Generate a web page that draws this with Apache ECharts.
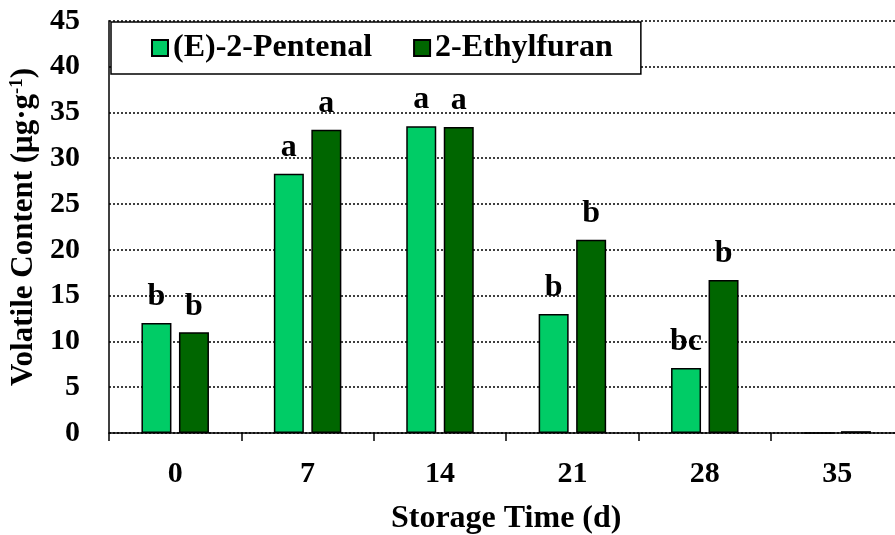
<!DOCTYPE html>
<html>
<head>
<meta charset="utf-8">
<script src="https://cdn.jsdelivr.net/npm/echarts@6/dist/echarts.min.js"></script>
<style>
html,body{margin:0;padding:0;background:#fff;}
#chart{width:895px;height:535px;}
</style>
</head>
<body>
<div id="chart"></div>
<script>
var categories = ['0', '7', '14', '21', '28', '35'];
var pentenal = [12.0, 28.3, 33.5, 13.0, 7.1, 0];
var ethylfuran = [11.0, 33.1, 33.4, 21.1, 16.7, 0.2];
var pentenalLetters = ['b', 'a', 'a', 'b', 'bc', ''];
var ethylfuranLetters = ['b', 'a', 'a', 'b', 'b', ''];
var yTicks = [0, 5, 10, 15, 20, 25, 30, 35, 40, 45];

var FONT = '"Liberation Serif", "Times New Roman", serif';
var chart = echarts.init(document.getElementById('chart'));

function letterLabel(letters) {
  return {
    show: true,
    position: 'top',
    distance: 10,
    fontFamily: FONT,
    fontWeight: 'bold',
    fontSize: 32,
    color: '#000',
    formatter: function (p) { return letters[p.dataIndex]; }
  };
}

chart.setOption({
  animation: false,
  backgroundColor: '#fff',
  grid: { left: 109, right: -8.4, top: 20.8, bottom: 102, outerBoundsMode: 'none', containLabel: false },
  legend: {
    left: 111,
    top: 22,
    orient: 'horizontal',
    backgroundColor: '#fff',
    borderColor: '#000',
    borderWidth: 1.5,
    padding: [10, 28, 10, 40],
    itemGap: 41,
    itemWidth: 16,
    itemHeight: 16,
    icon: 'rect',
    textStyle: { fontFamily: FONT, fontWeight: 'bold', fontSize: 32, color: '#000' },
    data: ['(E)-2-Pentenal', '2-Ethylfuran']
  },
  xAxis: {
    type: 'category',
    data: categories,
    name: 'Storage Time (d)',
    nameLocation: 'middle',
    nameGap: 70,
    nameTextStyle: { fontFamily: FONT, fontWeight: 'bold', fontSize: 32, color: '#000' },
    axisLine: { lineStyle: { color: '#000', width: 1.5 } },
    axisTick: { show: true, length: 8, lineStyle: { color: '#000', width: 1.5 } },
    axisLabel: { margin: 26, fontFamily: FONT, fontWeight: 'bold', fontSize: 30, color: '#000' }
  },
  yAxis: {
    type: 'value',
    min: yTicks[0],
    max: yTicks[yTicks.length - 1],
    interval: 5,
    name: '{a|Volatile Content (μg·g}{s|-1}{a|)}',
    nameLocation: 'middle',
    nameGap: 68,
    nameRotate: 90,
    nameTextStyle: {
      rich: {
        a: { fontFamily: FONT, fontWeight: 'bold', fontSize: 31, color: '#000', lineHeight: 32 },
        s: { fontFamily: FONT, fontWeight: 'bold', fontSize: 19, color: '#000', verticalAlign: 'top', lineHeight: 19, padding: [0, 0, 8, 0] }
      }
    },
    axisLine: { show: true, lineStyle: { color: '#000', width: 1.5 } },
    axisTick: { show: false },
    axisLabel: { margin: 29, fontFamily: FONT, fontWeight: 'bold', fontSize: 30, color: '#000' },
    splitLine: { show: true, lineStyle: { color: '#000', width: 1.5, type: [2, 2] } }
  },
  series: [
    {
      name: '(E)-2-Pentenal',
      type: 'bar',
      data: pentenal,
      barWidth: 30,
      barGap: '25%',
      itemStyle: { color: '#00CC66', borderColor: '#000', borderWidth: 1.5 },
      label: letterLabel(pentenalLetters)
    },
    {
      name: '2-Ethylfuran',
      type: 'bar',
      data: ethylfuran,
      barWidth: 30,
      barGap: '25%',
      itemStyle: { color: '#006600', borderColor: '#000', borderWidth: 1.5 },
      label: letterLabel(ethylfuranLetters)
    }
  ]
});
</script>
</body>
</html>
